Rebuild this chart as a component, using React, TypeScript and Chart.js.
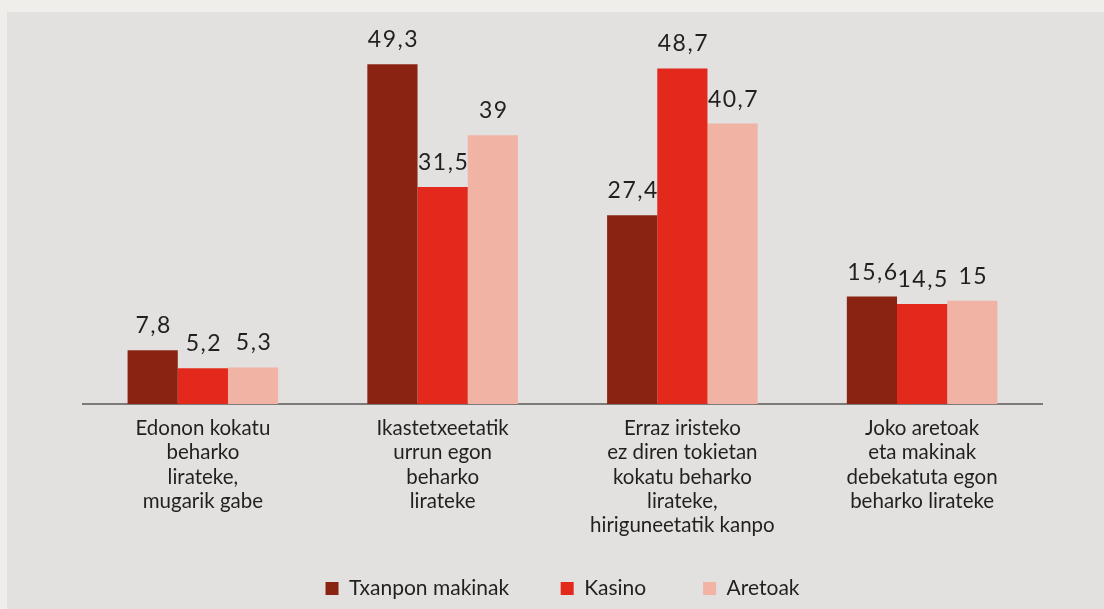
import React, { useEffect, useRef } from "react";
import { Chart, registerables } from "chart.js";

Chart.register(...registerables);

const categories: string[][] = [
  ["Edonon kokatu", "beharko", "lirateke,", "mugarik gabe"],
  ["Ikastetxeetatik", "urrun egon", "beharko", "lirateke"],
  ["Erraz iristeko", "ez diren tokietan", "kokatu beharko", "lirateke,", "hiriguneetatik kanpo"],
  ["Joko aretoak", "eta makinak", "debekatuta egon", "beharko lirateke"],
];
const seriesNames = ["Txanpon makinak", "Kasino", "Aretoak"];
const txanpon = [7.8, 49.3, 27.4, 15.6];
const kasino = [5.2, 31.5, 48.7, 14.5];
const aretoak = [5.3, 39, 40.7, 15];
const colors = ["#8b2312", "#e3281c", "#f0b3a4"];
// extra trailing spaces widen the gap between legend entries
const legendGaps = ["    ", "     ", ""];

const FONT = "Lato, 'Noto Sans', sans-serif";
const TEXT = "#231f20";

const valueLabels = {
  id: "valueLabels",
  afterDatasetsDraw(chart: any) {
    const ctx = chart.ctx;
    ctx.save();
    ctx.font = `23px ${FONT}`;
    (ctx as any).letterSpacing = "1.5px";
    ctx.fillStyle = TEXT;
    ctx.textAlign = "center";
    ctx.textBaseline = "alphabetic";
    chart.data.datasets.forEach((ds: any, di: number) => {
      const meta = chart.getDatasetMeta(di);
      meta.data.forEach((el: any, i: number) => {
        const v = ds.data[i] as number;
        const txt = String(v).replace(".", ",");
        ctx.fillText(txt, el.x + 1, el.y - 17);
      });
    });
    ctx.restore();
  },
};

export default function App() {
  const ref = useRef<HTMLCanvasElement | null>(null);
  useEffect(() => {
    document.body.style.margin = "0";
    const chart = new Chart(ref.current as HTMLCanvasElement, {
      type: "bar",
      data: {
        labels: categories as any,
        datasets: [
          { label: seriesNames[0], data: txanpon, backgroundColor: colors[0] },
          { label: seriesNames[1], data: kasino, backgroundColor: colors[1] },
          { label: seriesNames[2], data: aretoak, backgroundColor: colors[2] },
        ],
      },
      options: {
        responsive: false,
        animation: false,
        layout: { padding: { left: 76, right: 62, top: 13, bottom: 0 } },
        datasets: { bar: { barPercentage: 1, categoryPercentage: 0.628 } } as any,
        scales: {
          y: { display: false, min: 0, max: 55 },
          x: {
            grid: { display: false, drawTicks: false },
            border: { display: true, color: "#7b7a79", width: 2 },
            ticks: {
              color: TEXT,
              font: { family: FONT, size: 20.5, lineHeight: 1.19 },
              padding: 12,
              maxRotation: 0,
              autoSkip: false,
            },
            afterFit(scale: any) {
              scale.height = 144;
            },
          },
        },
        plugins: {
          tooltip: { enabled: false },
          legend: {
            position: "bottom",
            labels: {
              color: TEXT,
              font: { family: FONT, size: 21, lineHeight: 1 },
              boxWidth: 13,
              boxHeight: 13,
              padding: 30,
              generateLabels(chart: any) {
                const items = Chart.defaults.plugins.legend.labels.generateLabels(chart);
                return items.map((it: any, i: number) => ({ ...it, text: it.text + legendGaps[i] }));
              },
            },
          },
        },
      },
      plugins: [valueLabels],
    });
    return () => chart.destroy();
  }, []);
  return (
    <div style={{ position: "relative", width: 1104, height: 609, background: "#efeeea", overflow: "hidden" }}>
      <div style={{ position: "absolute", left: 7, top: 12, width: 1097, height: 597, background: "#e2e1df" }}>
        <canvas ref={ref} width={1097} height={597} style={{ display: "block" }} />
      </div>
    </div>
  );
}
